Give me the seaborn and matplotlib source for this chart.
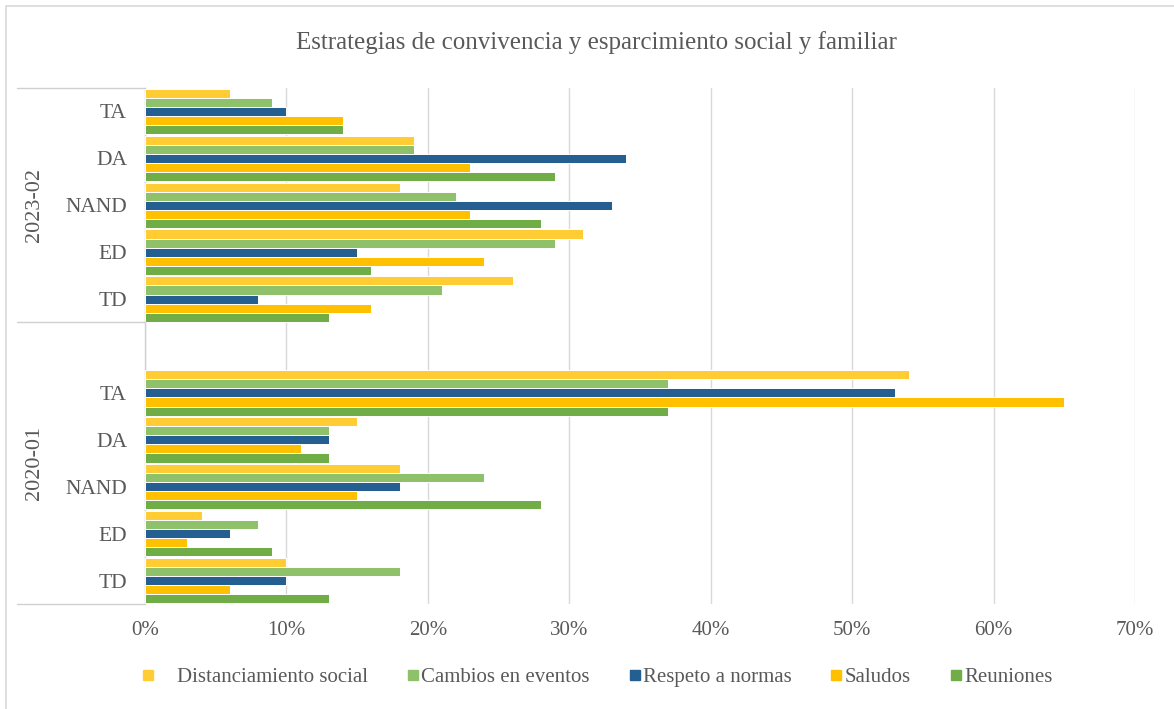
import numpy as np
import pandas as pd
import matplotlib
matplotlib.use("Agg")
import matplotlib.pyplot as plt
import seaborn as sns
from matplotlib.lines import Line2D
from matplotlib.patches import Rectangle

# ---- data ----
periods = ["2023-02", "2020-01"]
levels = ["TA", "DA", "NAND", "ED", "TD"]
series = ["Distanciamiento social", "Cambios en eventos", "Respeto a normas", "Saludos", "Reuniones"]
colors = ["#FFCD33", "#8FC16A", "#255E91", "#FFC000", "#70AD47"]

# values (%) per series, in level order TA, DA, NAND, ED, TD
v2023_dist = [6, 19, 18, 31, 26]
v2023_camb = [9, 19, 22, 29, 21]
v2023_resp = [10, 34, 33, 15, 8]
v2023_salu = [14, 23, 23, 24, 16]
v2023_reun = [14, 29, 28, 16, 13]

v2020_dist = [54, 15, 18, 4, 10]
v2020_camb = [37, 13, 24, 8, 18]
v2020_resp = [53, 13, 18, 6, 10]
v2020_salu = [65, 11, 15, 3, 6]
v2020_reun = [37, 13, 28, 9, 13]

xticks = [0, 10, 20, 30, 40, 50, 60, 70]
title = "Estrategias de convivencia y esparcimiento social y familiar"

vals = {
    "2023-02": [v2023_dist, v2023_camb, v2023_resp, v2023_salu, v2023_reun],
    "2020-01": [v2020_dist, v2020_camb, v2020_resp, v2020_salu, v2020_reun],
}

rows = []
for p in periods:
    for s, arr in zip(series, vals[p]):
        for lv, v in zip(levels, arr):
            rows.append({"slot": f"{p} {lv}", "serie": s, "valor": v})
df = pd.DataFrame(rows)

slot_order = [f"2023-02 {lv}" for lv in levels] + ["blank"] + [f"2020-01 {lv}" for lv in levels]
slot_labels = levels + [""] + levels

# ---- style ----
sns.set_theme(style="white")
plt.rcParams["font.family"] = ["Liberation Serif", "DejaVu Serif"]
txt = "#595959"

fig = plt.figure(figsize=(11.74, 7.09), dpi=100)
W, H = 1174, 709
ax = fig.add_axes([145 / W, 1 - 604 / H, (1135 - 145) / W, (604 - 88) / H])

sns.barplot(data=df, x="valor", y="slot", hue="serie", order=slot_order,
            hue_order=series, palette=colors, saturation=1, orient="h", width=0.97,
            edgecolor="white", linewidth=0.7, ax=ax, legend=False, zorder=3)

ax.set_xlim(0, 70)
ax.set_ylim(len(slot_order) - 0.5, -0.5)
ax.set_xticks(xticks)
ax.set_xticklabels([f"{t}%" for t in xticks], fontsize=15, color=txt)
ax.set_yticks(range(len(slot_order)))
ax.set_yticklabels(slot_labels, fontsize=15.5, color=txt)
ax.tick_params(axis="x", length=0, pad=12)
ax.tick_params(axis="y", length=0, pad=13)
ax.set_xlabel("")
ax.set_ylabel("")
ax.grid(axis="x", color="#D9D9D9", linewidth=1.0, zorder=0)
ax.set_axisbelow(True)
for sp in ["top", "right", "bottom"]:
    ax.spines[sp].set_visible(False)
ax.spines["left"].set_color("#D0D0D0")
ax.spines["left"].set_linewidth(1.0)

# multi-level category separators
for y in [88, 322, 604]:
    fig.add_artist(Line2D([17 / W, 145 / W], [1 - y / H, 1 - y / H],
                          color="#D0D0D0", linewidth=1.0))
fig.text(35 / W, 1 - 205 / H, "2023-02", rotation=90, ha="center", va="center",
         fontsize=16, color=txt)
fig.text(35 / W, 1 - 463 / H, "2020-01", rotation=90, ha="center", va="center",
         fontsize=16, color=txt)

# title
fig.text(596 / W, 1 - 43 / H, title, ha="center", va="center", fontsize=18, color=txt)

# legend
handles = [Line2D([], [], marker="s", linestyle="none", markersize=6.5,
                  markerfacecolor=c, markeredgecolor=c) for c in colors]
labels = ["    " + series[0]] + series[1:]
fig.legend(handles, labels, loc="center", bbox_to_anchor=(597 / W, 1 - 677 / H),
           ncol=5, frameon=False, fontsize=15, labelcolor=txt,
           handlelength=0.6, handletextpad=0.1, columnspacing=1.85)

# chart border
fig.add_artist(Rectangle((6 / W, -0.01), 1.02, 1 - 6 / H + 0.01, fill=False,
                         edgecolor="#D9D9D9", linewidth=1.2, transform=fig.transFigure))

fig.savefig("out.png", dpi=100, facecolor="white")
